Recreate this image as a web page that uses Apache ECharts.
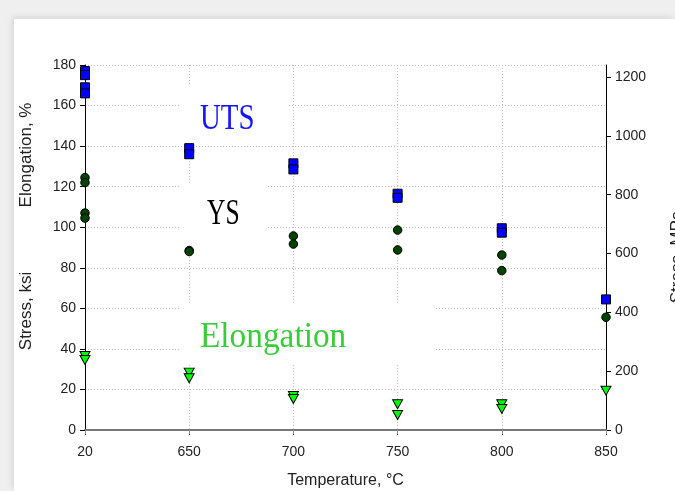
<!DOCTYPE html>
<html>
<head>
<meta charset="utf-8">
<script src="https://cdn.jsdelivr.net/npm/echarts@6/dist/echarts.min.js"></script>
<style>
html,body{margin:0;padding:0;background:#efefef;width:675px;height:491px;overflow:hidden;}
#card{position:absolute;left:14px;top:19px;width:661px;height:472px;background:#fff;box-shadow:-2px -2px 6px rgba(0,0,0,0.10);}
#chart{position:absolute;left:0;top:0;width:675px;height:491px;}
</style>
</head>
<body>
<div id="card"></div>
<div id="chart"></div>
<script>
// ---- data ----
const categories = ['20', '650', '700', '750', '800', '850'];
// UTS (ksi, left axis)
const utsKsi = [[177, 175, 169, 166], [139, 136], [131.5, 128.5], [116.5, 114.5], [99.5, 97.3], [64.4]];
// YS (ksi, left axis)
const ysKsi = [[124.5, 122, 107, 104.5], [88.5, 88], [95.7, 91.7], [98.6, 88.8], [86.3, 78.6], [55.6]];
// Elongation (%, left axis)
const elongPct = [[36.5, 34.5], [28.3, 25.5], [16.8, 15.3], [12.7, 7.4], [12.7, 10.4], [19.4]];
const leftTicks = [0, 20, 40, 60, 80, 100, 120, 140, 160, 180];
const rightTicks = [0, 200, 400, 600, 800, 1000, 1200];
const KSI_TO_MPA = 6.89476;

function pts(arr) {
  const out = [];
  arr.forEach((vals, i) => vals.forEach(v => out.push([i, v])));
  return out;
}

const chart = echarts.init(document.getElementById('chart'), null, {renderer: 'canvas'});
const labelFont = {fontFamily: 'Liberation Sans', fontSize: 14, color: '#222'};
const gridLine = {show: true, lineStyle: {color: '#bdbdbd', width: 1, type: [1, 2]}};

const option = {
  animation: false,
  backgroundColor: 'transparent',
  grid: {left: 85, right: 69, top: 65, bottom: 61, containLabel: false, outerBoundsMode: 'none'},
  xAxis: [{
    type: 'category', data: categories, boundaryGap: false, position: 'bottom',
    axisLine: {lineStyle: {color: '#333', width: 1.5}},
    axisTick: {show: true, inside: false, length: 5, alignWithLabel: true, lineStyle: {color: '#333'}},
    axisLabel: Object.assign({margin: 15}, labelFont),
    splitLine: gridLine,
    name: 'Temperature, °C', nameLocation: 'middle', nameGap: 43,
    nameTextStyle: {fontFamily: 'Liberation Sans', fontSize: 16, color: '#222'}
  }, {
    type: 'category', data: categories, boundaryGap: false, position: 'top',
    axisLine: {lineStyle: {color: '#777', width: 2}},
    axisTick: {show: true, inside: true, length: 4, lineStyle: {color: '#999'}},
    axisLabel: {show: false}, splitLine: {show: false}
  }],
  yAxis: [{
    type: 'value', min: 0, max: 180, interval: 20, position: 'left',
    axisLine: {show: true, lineStyle: {color: '#000', width: 1}},
    axisTick: {show: true, length: 5, lineStyle: {color: '#000'}},
    axisLabel: Object.assign({margin: 9}, labelFont),
    splitLine: gridLine
  }, {
    type: 'value', min: 0, max: 180 * KSI_TO_MPA, position: 'right',
    axisLine: {show: true, lineStyle: {color: '#000', width: 1}},
    axisTick: {show: true, length: 5, customValues: rightTicks, lineStyle: {color: '#000'}},
    axisLabel: Object.assign({margin: 9, customValues: rightTicks, formatter: v => String(Math.round(v))}, labelFont),
    splitLine: {show: false}
  }],
  graphic: [
    {type: 'rect', z: 1, silent: true, shape: {x: 181, y: 86, width: 106, height: 58}, style: {fill: '#fff'}},
    {type: 'rect', z: 1, silent: true, shape: {x: 181, y: 184, width: 87, height: 63}, style: {fill: '#fff'}},
    {type: 'rect', z: 1, silent: true, shape: {x: 181, y: 304, width: 255, height: 61}, style: {fill: '#fff'}},
    {type: 'text', z: 1, x: 200, y: 120, scaleX: 0.85, scaleY: 1.05, style: {text: 'UTS', fill: '#1515ff', font: '34px "Liberation Serif"', textVerticalAlign: 'middle'}},
    {type: 'text', z: 1, x: 207, y: 215, scaleX: 0.75, scaleY: 1.05, style: {text: 'YS', fill: '#000', font: '34px "Liberation Serif"', textVerticalAlign: 'middle'}},
    {type: 'text', z: 1, x: 200, y: 338, scaleX: 0.98, scaleY: 1.05, style: {text: 'Elongation', fill: '#38cc38', font: '34px "Liberation Serif"', textVerticalAlign: 'middle'}},
    {type: 'text', z: 1, x: 26, y: 155, rotation: Math.PI / 2, style: {text: 'Elongation, %', fill: '#222', font: '17px "Liberation Sans"', textAlign: 'center', textVerticalAlign: 'middle'}},
    {type: 'text', z: 1, x: 26, y: 311, rotation: Math.PI / 2, style: {text: 'Stress, ksi', fill: '#222', font: '17px "Liberation Sans"', textAlign: 'center', textVerticalAlign: 'middle'}},
    {type: 'text', z: 1, x: 677, y: 257, rotation: Math.PI / 2, style: {text: 'Stress, MPa', fill: '#222', font: '17px "Liberation Sans"', textAlign: 'center', textVerticalAlign: 'middle'}}
  ],
  series: [{
    name: 'Elongation', type: 'scatter', xAxisIndex: 0, yAxisIndex: 0,
    data: pts(elongPct), symbol: 'triangle', symbolRotate: 180, symbolSize: [10, 9],
    itemStyle: {color: '#00ff00', borderColor: '#000', borderWidth: 1, opacity: 1}
  }, {
    name: 'YS', type: 'scatter', xAxisIndex: 0, yAxisIndex: 0,
    data: pts(ysKsi), symbol: 'circle', symbolSize: 8.5,
    itemStyle: {color: '#004400', borderColor: '#000', borderWidth: 1, opacity: 1}
  }, {
    name: 'UTS', type: 'scatter', xAxisIndex: 0, yAxisIndex: 0,
    data: pts(utsKsi), symbol: 'rect', symbolSize: 9,
    itemStyle: {color: '#0000ff', borderColor: '#000', borderWidth: 1, opacity: 1}
  }]
};
chart.setOption(option);
</script>
</body>
</html>
